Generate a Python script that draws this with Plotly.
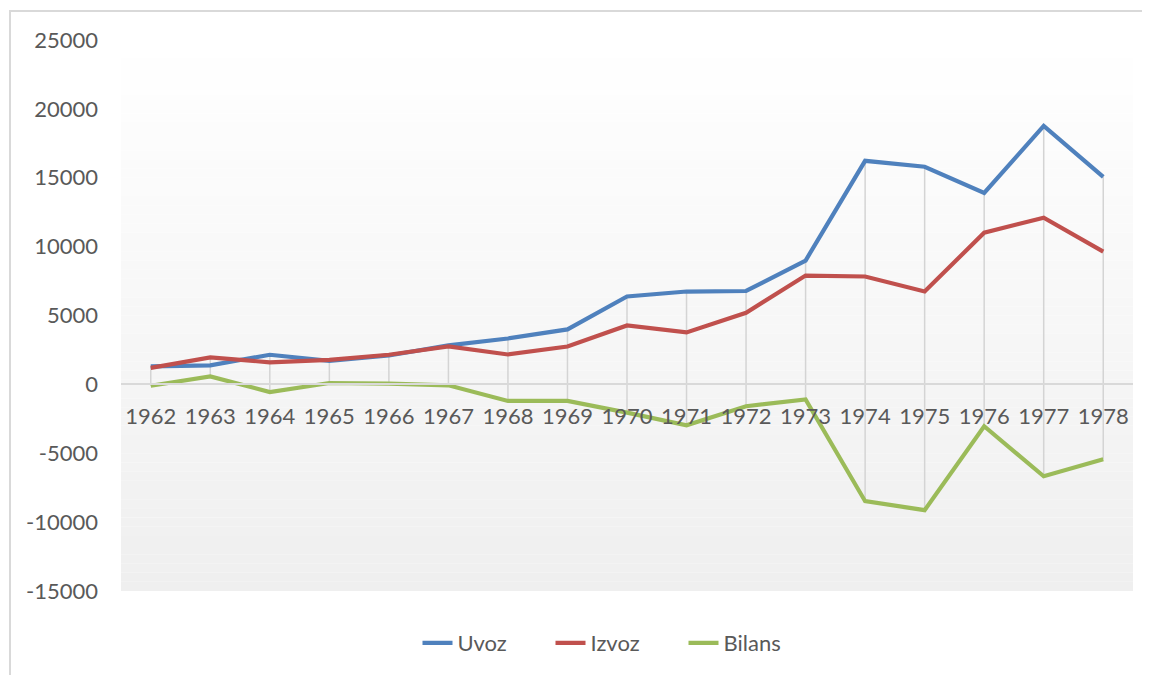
import plotly.graph_objects as go

years = ["1962", "1963", "1964", "1965", "1966", "1967", "1968", "1969", "1970",
         "1971", "1972", "1973", "1974", "1975", "1976", "1977", "1978"]
uvoz = [1300, 1380, 2150, 1700, 2100, 2830, 3330, 3990, 6380, 6740, 6780, 8990,
        16230, 15800, 13900, 18770, 15070]
izvoz = [1200, 1960, 1600, 1780, 2150, 2750, 2170, 2750, 4280, 3770, 5200, 7900,
         7830, 6740, 11010, 12100, 9640]
bilans = [-100, 580, -560, 100, 50, -70, -1200, -1200, -2050, -2970, -1590, -1090,
          -8480, -9130, -3040, -6670, -5430]

series_names = ["Uvoz", "Izvoz", "Bilans"]
series_colors = ["#4f81bd", "#c0504d", "#9bbb59"]
y_ticks = [-15000, -10000, -5000, 0, 5000, 10000, 15000, 20000, 25000]

FONT = "Lato, 'Open Sans', sans-serif"
TXT = "#595959"

fig = go.Figure()

# high-low lines
hx, hy = [], []
for i, yr in enumerate(years):
    vals = [uvoz[i], izvoz[i], bilans[i]]
    hx += [yr, yr, None]
    hy += [max(vals), min(vals), None]
fig.add_trace(go.Scatter(x=hx, y=hy, mode="lines", showlegend=False, hoverinfo="skip",
                         line=dict(color="#d4d4d4", width=1.5)))

for name, vals, col in zip(series_names, [uvoz, izvoz, bilans], series_colors):
    fig.add_trace(go.Scatter(x=years, y=vals, mode="lines", name=name,
                             line=dict(color=col, width=4.2)))

# gradient background bands
n = 60
shapes = []
for k in range(n):
    t = (k + 0.5) / n
    c = int(round(255 - (255 - 239) * t))
    shapes.append(dict(type="rect", xref="x domain", yref="y domain",
                       x0=0, x1=1, y0=1 - (k + 1) / n, y1=1 - k / n,
                       fillcolor=f"rgb({c},{c},{c})", line=dict(width=0), layer="below"))
# chart border
shapes.append(dict(type="rect", xref="paper", yref="paper",
                   x0=(10 - 121) / 1012, x1=(1300 - 121) / 1012,
                   y0=-(800 - 592) / 552, y1=1 + 29 / 552,
                   line=dict(color="#d9d9d9", width=2), fillcolor="rgba(0,0,0,0)", layer="below"))

fig.update_layout(
    width=1142, height=667,
    margin=dict(l=113, r=17, t=32, b=83),
    paper_bgcolor="white", plot_bgcolor="white",
    shapes=shapes,
    font=dict(family=FONT, size=22, color=TXT),
    showlegend=True,
    legend=dict(orientation="h", x=(617 - 121) / 1012, xanchor="center",
                y=-51 / 552, yanchor="middle", font=dict(size=22, color=TXT),
                entrywidth=88, bgcolor="rgba(0,0,0,0)"),
    hovermode=False,
)
fig.update_xaxes(type="category", categoryorder="array", categoryarray=years,
                 range=[-0.5, len(years) - 0.5],
                 showgrid=False, zeroline=False, showline=True, linecolor="#d9d9d9", linewidth=1.5,
                 anchor="free", position=15000 / 40000, ticks="", ticklabelstandoff=12,
                 tickfont=dict(family=FONT, size=22, color=TXT))
fig.update_yaxes(range=[-15000, 25000], tickvals=y_ticks, ticktext=[str(v) for v in y_ticks],
                 showgrid=False, zeroline=False, showline=False, ticks="",
                 ticklabelstandoff=22, tickfont=dict(family=FONT, size=22, color=TXT))

fig.write_html("out.html")
